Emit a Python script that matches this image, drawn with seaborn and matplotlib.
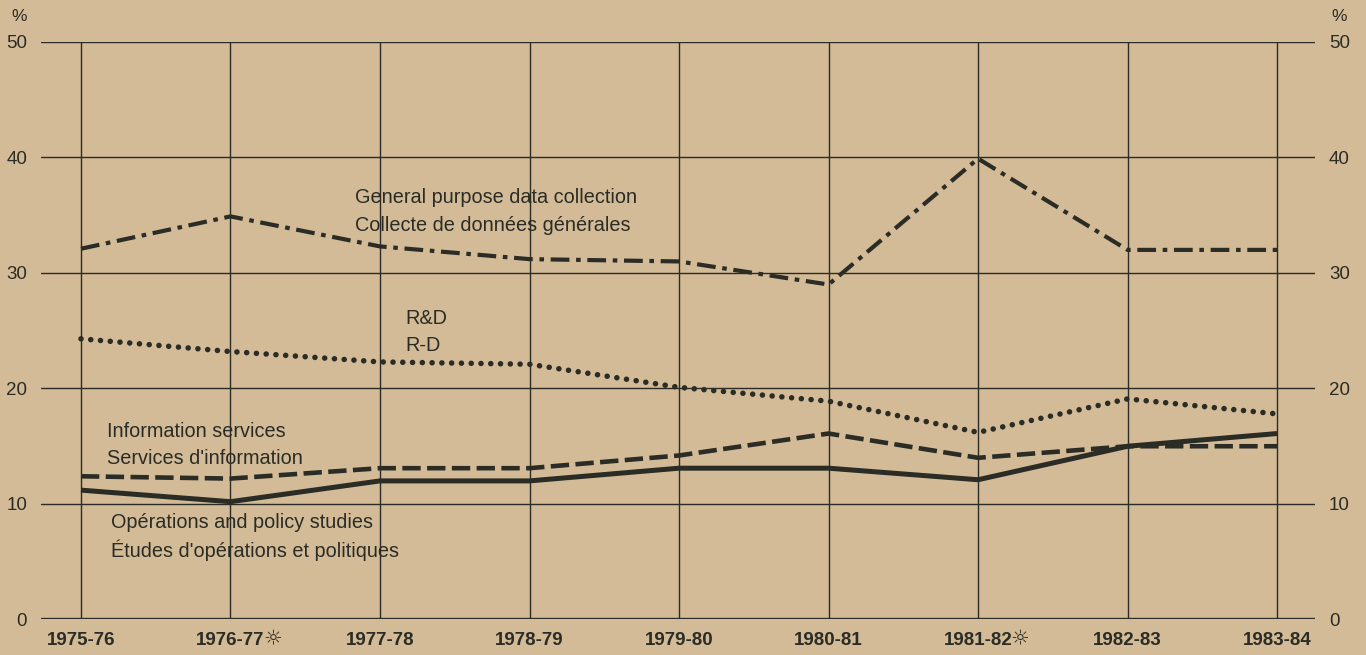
import numpy as np
import pandas as pd
import matplotlib
matplotlib.use("Agg")
import matplotlib.pyplot as plt
import seaborn as sns

# Data (percent)
years = ['1975-76', '1976-77', '1977-78', '1978-79', '1979-80',
         '1980-81', '1981-82', '1982-83', '1983-84']
starred = ['1976-77', '1981-82']
general_purpose = [32.1, 34.9, 32.3, 31.2, 31.0, 29.0, 39.9, 32.0, 32.0]
r_and_d = [24.3, 23.2, 22.3, 22.1, 20.1, 18.9, 16.2, 19.1, 17.8]
info_services = [12.4, 12.2, 13.1, 13.1, 14.2, 16.1, 14.0, 15.0, 15.0]
operations = [11.2, 10.2, 12.0, 12.0, 13.1, 13.1, 12.1, 15.0, 16.1]
y_ticks = [0, 10, 20, 30, 40, 50]

BG = '#D3BB97'
INK = '#2a2c25'

sns.set_theme(style='white')
plt.rcParams['font.family'] = ['Liberation Sans', 'DejaVu Sans']
plt.rcParams['text.color'] = INK

df = pd.DataFrame({
    'pos': np.arange(len(years)),
    'general': general_purpose,
    'rd': r_and_d,
    'info': info_services,
    'ops': operations,
})

fig = plt.figure(figsize=(13.66, 6.55), dpi=100, facecolor=BG)
ax = fig.add_axes([0.030, 0.0542, 0.9327, 0.8817])
ax.set_facecolor(BG)

# grid
for x in df['pos']:
    ax.axvline(x, color=INK, lw=1.0, zorder=1)
for y in y_ticks[1:]:
    ax.axhline(y, color=INK, lw=1.0, zorder=1)
ax.axhline(0, color=INK, lw=2.4, zorder=1)

# series
sns.lineplot(data=df, x='pos', y='general', ax=ax, color=INK, lw=3.0,
             linestyle=(0, (4.5, 1.6, 1.1, 1.6)), dash_capstyle='butt', zorder=3)
sns.lineplot(data=df, x='pos', y='rd', ax=ax, color=INK, lw=4.0,
             linestyle=(0, (0.01, 1.75)), dash_capstyle='round', zorder=3)
sns.lineplot(data=df, x='pos', y='info', ax=ax, color=INK, lw=3.3,
             linestyle=(0, (4.0, 1.4)), dash_capstyle='butt', zorder=3)
sns.lineplot(data=df, x='pos', y='ops', ax=ax, color=INK, lw=3.6,
             linestyle='-', solid_capstyle='butt', zorder=4)

ax.set_xlim(-0.2676, 8.254)
ax.set_ylim(0, 50)
for s in ax.spines.values():
    s.set_visible(False)

ax.set_xticks(df['pos'])
ax.set_xticklabels(years, fontsize=13.5, fontweight='bold', color=INK)
ax.set_yticks(y_ticks)
ax.set_yticklabels([str(v) for v in y_ticks], fontsize=13.5, color=INK)
ax.tick_params(axis='x', length=0, pad=9)
ax.tick_params(axis='y', length=0, pad=10, labelleft=True, labelright=True)
ax.set_xlabel('')
ax.set_ylabel('')

# stars after some years
for yr in starred:
    ax.text(years.index(yr) + 0.28, -1.6, '\u263c', fontsize=15,
            family='DejaVu Sans', color=INK, ha='center', va='center', clip_on=False)

# percent signs
ax.text(-0.0169, 1.044, '%', transform=ax.transAxes, fontsize=12.5, ha='center', va='center')
ax.text(1.0192, 1.044, '%', transform=ax.transAxes, fontsize=12.5, ha='center', va='center')

# series labels
labels = [
    (1.833, 36.5, 'General purpose data collection'),
    (1.833, 34.1, 'Collecte de données générales'),
    (2.172, 26.1, 'R&D'),
    (2.172, 23.7, 'R-D'),
    (0.174, 16.3, 'Information services'),
    (0.174, 13.96, "Services d'information"),
    (0.200, 8.38, 'Opérations and policy studies'),
    (0.200, 5.96, "Études d'opérations et politiques"),
]
for x, y, t in labels:
    ax.text(x, y, t, fontsize=14.3, color=INK, ha='left', va='center', zorder=5)

fig.savefig('out.png', dpi=100, facecolor=BG)
